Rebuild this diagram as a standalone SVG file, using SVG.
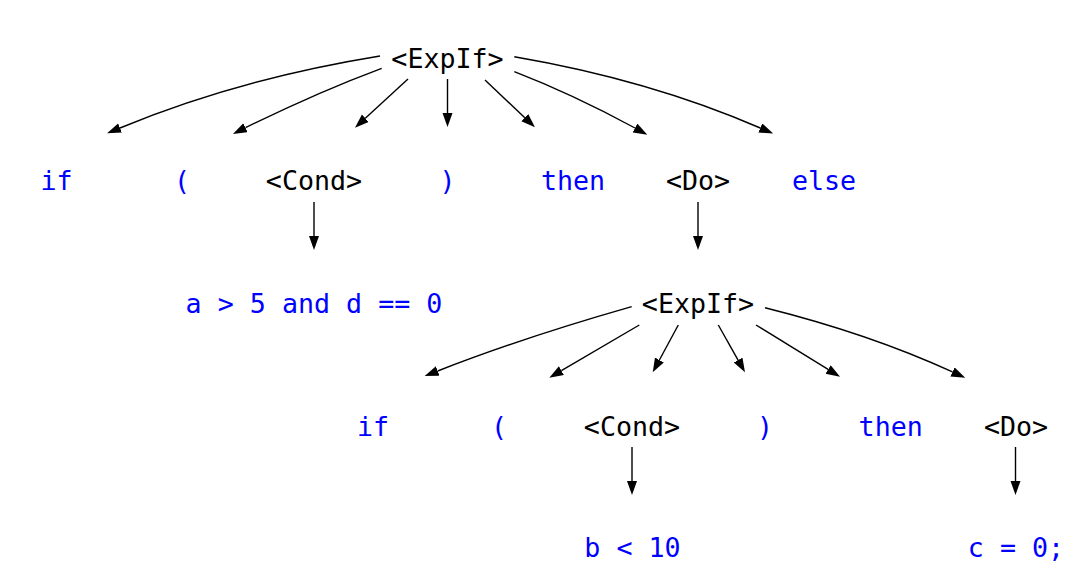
<svg xmlns="http://www.w3.org/2000/svg" width="1080" height="576" viewBox="0 0 1080 576">
<style>
  text { font-family: "DejaVu Sans Mono", "Liberation Mono", monospace; font-size: 26.67px; text-anchor: middle; }
  .nt { fill: #000000; }
  .t { fill: #0000ff; }
  .e { fill: none; stroke: #000000; stroke-width: 1.4; marker-end: url(#arr); }
</style>
<defs>
  <marker id="arr" markerUnits="userSpaceOnUse" markerWidth="15" markerHeight="11" refX="0" refY="5" orient="auto">
    <path d="M0,0 L14,5 L0,10 z" fill="#000000"/>
  </marker>
</defs>
<rect width="1080" height="576" fill="#ffffff"/>
<g id="connectors">
  <path class="e" d="M380,56 Q238,79 120,128"/>
  <path class="e" d="M381.7,68.3 Q318,92 245.5,127.7"/>
  <path class="e" d="M408,79 L365.3,118.2"/>
  <path class="e" d="M447.5,79 L447.5,113"/>
  <path class="e" d="M485,80 L524.8,117.7"/>
  <path class="e" d="M514.3,71.7 Q572,94 635,128"/>
  <path class="e" d="M514.3,56.7 Q650,80 760.3,128"/>
  <path class="e" d="M314,202 L314,236"/>
  <path class="e" d="M698,202 L698,236"/>
  <path class="e" d="M631.7,306.7 Q522,338 437.7,371"/>
  <path class="e" d="M639.3,325 L561.4,370.6"/>
  <path class="e" d="M678.3,325 L659.4,360"/>
  <path class="e" d="M718.3,325 L738.1,360.1"/>
  <path class="e" d="M756,325 L828.1,369.4"/>
  <path class="e" d="M765,307.7 Q870,334 952.5,371.9"/>
  <path class="e" d="M632,447 L632,481"/>
  <path class="e" d="M1015.5,447 L1015.5,481"/>
</g>
<g id="n_expif1"><text class="nt" x="447.5" y="68">&lt;ExpIf&gt;</text></g>
<g id="n_if1"><text class="t" x="56.5" y="190">if</text></g>
<g id="n_lp1"><text class="t" x="182" y="190">(</text></g>
<g id="n_cond1"><text class="nt" x="314" y="190">&lt;Cond&gt;</text></g>
<g id="n_rp1"><text class="t" x="447.5" y="190">)</text></g>
<g id="n_then1"><text class="t" x="573" y="190">then</text></g>
<g id="n_do1"><text class="nt" x="698" y="190">&lt;Do&gt;</text></g>
<g id="n_else1"><text class="t" x="824" y="190">else</text></g>
<g id="n_cond1val"><text class="t" x="314" y="312.5">a &gt; 5 and d == 0</text></g>
<g id="n_expif2"><text class="nt" x="698" y="312.5">&lt;ExpIf&gt;</text></g>
<g id="n_if2"><text class="t" x="373" y="435.7">if</text></g>
<g id="n_lp2"><text class="t" x="499" y="435.7">(</text></g>
<g id="n_cond2"><text class="nt" x="632" y="435.7">&lt;Cond&gt;</text></g>
<g id="n_rp2"><text class="t" x="765" y="435.7">)</text></g>
<g id="n_then2"><text class="t" x="890.7" y="435.7">then</text></g>
<g id="n_do2"><text class="nt" x="1016" y="435.7">&lt;Do&gt;</text></g>
<g id="n_cond2val"><text class="t" x="632.5" y="557">b &lt; 10</text></g>
<g id="n_do2val"><text class="t" x="1016" y="557">c = 0;</text></g>
</svg>
